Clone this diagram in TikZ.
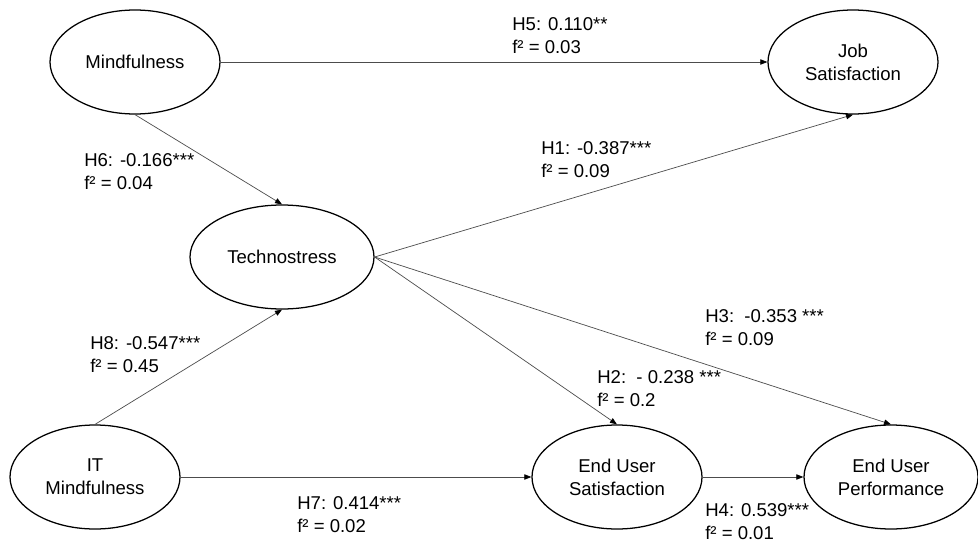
\documentclass[tikz,border=0pt]{standalone}
\usepackage{fontspec}
\setmainfont{Liberation Sans}
\usepackage{tikz}
\usetikzlibrary{shapes.geometric, positioning, arrows.meta}

\tikzset{
	construct/.style={ellipse, draw, line width=0.9pt, minimum width=4.25cm, minimum height=2.6cm, inner sep=0pt, align=center},
	coeff/.style={anchor=west, inner sep=0pt, align=left},
	link/.style={draw=black!70, line width=0.5pt}
}

\begin{document}
\begin{tikzpicture}[>={Triangle[length=5pt,width=3.8pt,black]}, font=\fontsize{13.2}{16.4}\selectfont, text=black]
		\useasboundingbox (0,0) rectangle (24.45,-13.625);

		\node[construct] (mind) at (3.375,-1.55) {Mindfulness};
		\node[construct, right of=mind, node distance=17.95cm] (job) {Job\\Satisfaction};
		\node[construct, below of=mind, node distance=4.875cm, xshift=3.675cm, minimum width=4.6cm] (techno) {Technostress};
		\node[construct, below of=techno, node distance=5.5cm, xshift=-4.675cm] (it) {IT\\Mindfulness};
		\node[construct, right of=it, node distance=13.05cm] (eus) {End User\\Satisfaction};
		\node[construct, right of=eus, node distance=6.85cm, minimum width=4.35cm] (eup) {End User\\Performance};

		\node[coeff] (h5) at (12.8,-0.8875) {H5: 0.110**\\f² = 0.03};
		\node[coeff] (h6) at (2.1,-4.2875) {H6: -0.166***\\f² = 0.04};
		\node[coeff] (h1) at (13.525,-4.0) {H1: -0.387***\\f² = 0.09};
		\node[coeff] (h8) at (2.25,-8.875) {H8: -0.547***\\f² = 0.45};
		\node[coeff] (h3) at (17.625,-8.1875) {H3:\ \ -0.353 ***\\f² = 0.09};
		\node[coeff] (h2) at (14.925,-9.7125) {H2:\ \ - 0.238 ***\\f² = 0.2};
		\node[coeff] (h7) at (7.425,-12.875) {H7: 0.414***\\f² = 0.02};
		\node[coeff] (h4) at (17.625,-13.0375) {H4: 0.539***\\f² = 0.01};

		\draw[->, link] (mind) -- (job);
		\draw[->, link] (mind.south) -- (techno.north);
		\draw[->, link] (techno.east) -- (job.south);
		\draw[->, link] (techno.east) -- (eus.north);
		\draw[->, link] (techno.east) -- (eup.north);
		\draw[->, link] (it.north) -- (techno.south);
		\draw[->, link] (it) -- (eus);
		\draw[->, link] (eus) -- (eup);
	\end{tikzpicture}
\end{document}
